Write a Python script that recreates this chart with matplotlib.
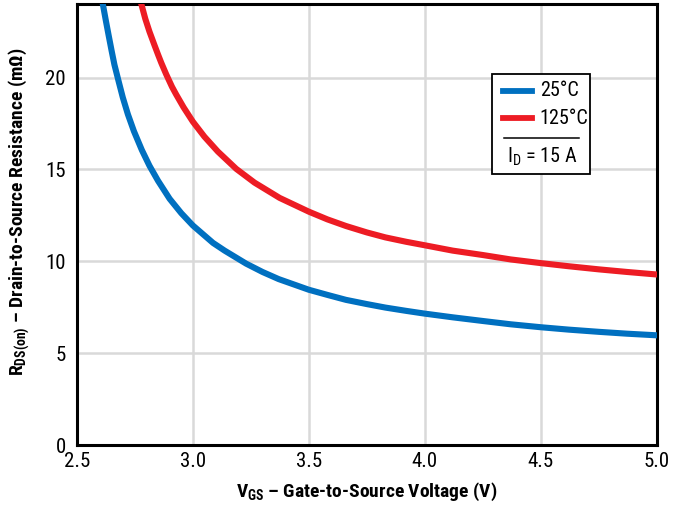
import matplotlib
matplotlib.use("Agg")
import matplotlib.pyplot as plt
from matplotlib import font_manager
from matplotlib.patches import Rectangle
from matplotlib.lines import Line2D

# values
vgs_25 = [2.612, 2.625, 2.637, 2.65, 2.662, 2.68, 2.698, 2.72, 2.746, 2.78, 2.813,
          2.85, 2.90, 2.95, 3.0, 3.087, 3.137, 3.23, 3.30, 3.37, 3.5, 3.58, 3.66,
          3.75, 3.83, 3.92, 4.0, 4.12, 4.25, 4.37, 4.5, 4.62, 4.75, 4.87, 5.0]
rds_25 = [24.0, 23.1, 22.3, 21.45, 20.7, 19.8, 18.92, 18.0, 17.08, 16.06, 15.2,
          14.38, 13.4, 12.62, 11.95, 11.0, 10.58, 9.87, 9.42, 9.03, 8.45, 8.17,
          7.9, 7.67, 7.48, 7.3, 7.15, 6.95, 6.75, 6.57, 6.41, 6.28, 6.16, 6.06, 5.97]

vgs_125 = [2.778, 2.795, 2.813, 2.835, 2.85, 2.864, 2.885, 2.91, 2.928, 2.96, 3.0,
           3.05, 3.108, 3.187, 3.266, 3.374, 3.5, 3.58, 3.66, 3.75, 3.83, 3.92,
           4.0, 4.12, 4.25, 4.37, 4.5, 4.62, 4.75, 4.87, 5.0]
rds_125 = [24.0, 23.2, 22.5, 21.75, 21.25, 20.8, 20.18, 19.5, 19.08, 18.38, 17.6,
           16.78, 15.97, 15.03, 14.28, 13.45, 12.7, 12.28, 11.92, 11.57, 11.3,
           11.06, 10.87, 10.58, 10.34, 10.1, 9.9, 9.73, 9.56, 9.42, 9.28]

x_ticks = [2.5, 3.0, 3.5, 4.0, 4.5, 5.0]
y_ticks = [0, 5, 10, 15, 20]
labels = ["25°C", "125°C"]

# narrowest available sans face
installed = {f.name for f in font_manager.fontManager.ttflist}
main_font = "DejaVu Sans"
for name in ["Liberation Sans Narrow", "DejaVu Sans Condensed", "Roboto Condensed",
             "Open Sans Condensed", "Liberation Sans", "Roboto"]:
    if name in installed:
        main_font = name
        break

plt.rcParams["font.family"] = [main_font, "DejaVu Sans"]
plt.rcParams["mathtext.fontset"] = "custom"
plt.rcParams["mathtext.rm"] = main_font + ":bold"
plt.rcParams["mathtext.default"] = "rm"

fig = plt.figure(figsize=(6.8, 5.08), dpi=100)
ax = fig.add_axes([0.113, 0.124, 0.853, 0.868])

blue = "#0070c0"
red = "#ed1c24"
ax.plot(vgs_25, rds_25, color=blue, lw=4.4, zorder=3)
ax.plot(vgs_125, rds_125, color=red, lw=4.4, zorder=3)

ax.set_xlim(2.5, 5.0)
ax.set_ylim(0, 24)
ax.set_xticks(x_ticks)
ax.set_xticklabels([f"{t:.1f}" for t in x_ticks])
ax.set_yticks(y_ticks)
ax.tick_params(length=0, labelsize=15, pad=5)
ax.tick_params(axis="y", pad=8)
ax.grid(True, color="#d9d9d9", lw=1.8)
ax.set_axisbelow(True)
for s in ax.spines.values():
    s.set_linewidth(2.2)
    s.set_color("black")

ax.set_xlabel(r"V$_{\mathrm{GS}}$ – Gate-to-Source Voltage (V)",
              fontsize=14, fontweight="bold", labelpad=7)
ax.set_ylabel(r"R$_{\mathrm{DS(on)}}$ – Drain-to-Source Resistance (mΩ)",
              fontsize=14, fontweight="bold")
ax.yaxis.set_label_coords(-0.078, 0.53)

# legend box drawn by hand
tr = ax.transAxes
ax.add_patch(Rectangle((0.716, 0.615), 0.168, 0.226, transform=tr,
                       facecolor="white", edgecolor="black", lw=1.3, zorder=5))
ax.add_line(Line2D([0.735, 0.785], [0.803, 0.803], transform=tr, color=blue,
                   lw=4.2, zorder=6))
ax.add_line(Line2D([0.735, 0.785], [0.741, 0.741], transform=tr, color=red,
                   lw=4.2, zorder=6))
ax.text(0.798, 0.803, labels[0], transform=tr, fontsize=14.5, va="center",
        ha="left", zorder=6)
ax.text(0.798, 0.741, labels[1], transform=tr, fontsize=14.5, va="center",
        ha="left", zorder=6)
ax.add_line(Line2D([0.736, 0.866], [0.696, 0.696], transform=tr,
                   color="black", lw=1.1, zorder=6))
ax.text(0.803, 0.653, r"I$_{\mathregular{D}}$ = 15 A", transform=tr,
        fontsize=14.5, va="center", ha="center", zorder=6)

fig.savefig("out.png", dpi=100)
